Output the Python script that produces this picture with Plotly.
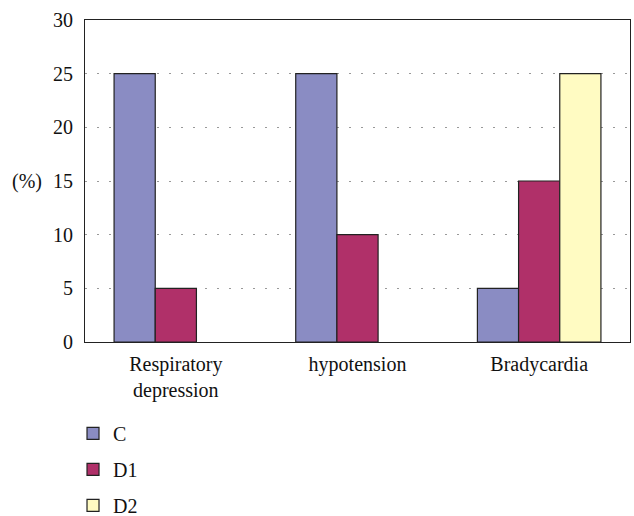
import plotly.graph_objects as go

categories = ["Respiratory<br>depression", "hypotension", "Bradycardia"]
series_names = ["C", "D1", "D2"]
c_values = [25, 25, 5]
d1_values = [5, 10, 15]
d2_values = [None, None, 25]
colors = ["#8a8cc3", "#b03069", "#fffbc2"]

fig = go.Figure()
for name, vals, col in zip(series_names, [c_values, d1_values, d2_values], colors):
    fig.add_trace(go.Bar(
        x=categories, y=vals, name=name, legendgroup=name,
        marker=dict(color=col, line=dict(color="#222222", width=1.2)),
    ))

font = "Liberation Serif, Times New Roman, serif"
fig.update_layout(
    width=634, height=516,
    margin=dict(l=85, r=4, t=20, b=174),
    paper_bgcolor="white", plot_bgcolor="white",
    barmode="group", bargap=0.32, bargroupgap=0,
    font=dict(family=font, size=20, color="#111111"),
    showlegend=True,
    legend=dict(x=-0.022, y=0.198, xref="paper", yref="container",
                xanchor="left", yanchor="top",
                orientation="v", tracegroupgap=7,
                font=dict(family=font, size=20)),
    xaxis=dict(showline=True, linecolor="#222222", linewidth=1.2, mirror=True,
               ticks="", tickfont=dict(size=20), automargin=False,
               ticklabelstandoff=4),
    yaxis=dict(range=[0, 30], dtick=5, showline=True, linecolor="#222222",
               linewidth=1.2, mirror=True, ticks="", automargin=False,
               showgrid=True, gridcolor="#999999", griddash="2px,10px", gridwidth=1,
               zeroline=False, tickfont=dict(size=20), ticklabelstandoff=7),
    annotations=[dict(text="(%)", x=-0.075, y=15, xref="paper", yref="y",
                      xanchor="right", yanchor="middle", showarrow=False,
                      font=dict(family=font, size=20))],
)
fig.write_html("out.html", config={"displayModeBar": False},
               post_script="document.body.style.margin='0';document.body.style.overflow='hidden';")
